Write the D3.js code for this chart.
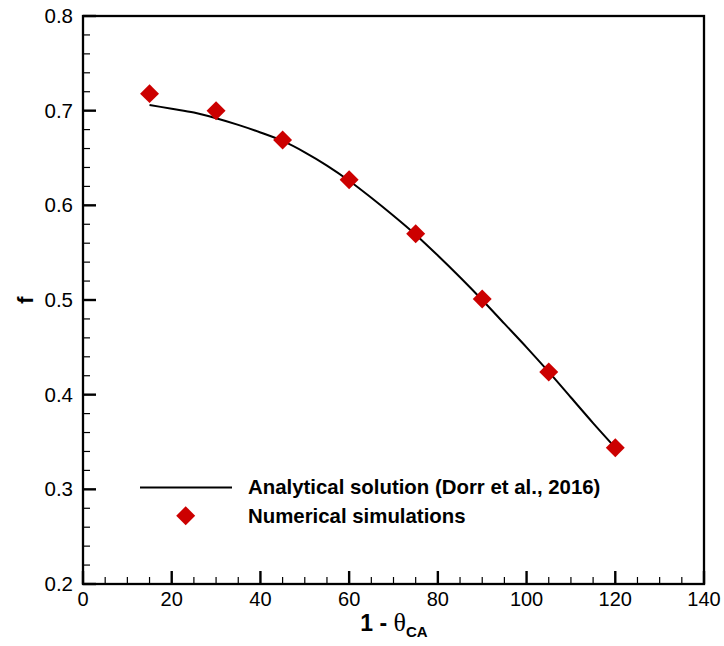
<!DOCTYPE html>
<html><head><meta charset="utf-8">
<script src="https://cdn.jsdelivr.net/npm/d3@7"></script>
<style>body{margin:0;background:#fff}svg{display:block}</style>
</head><body>
<svg id="c" width="724" height="646"></svg>
<script>
// Data
const simX = [15, 30, 45, 60, 75, 90, 105, 120];
const simF = [0.718, 0.700, 0.669, 0.627, 0.570, 0.501, 0.424, 0.344];
const anaX = [15, 20, 25, 30, 35, 40, 45, 50, 55, 60, 65, 70, 75, 80, 85, 90, 95, 100, 105, 110, 115, 120];
const anaF = [0.706, 0.702, 0.698, 0.692, 0.685, 0.677, 0.668, 0.656, 0.642, 0.626, 0.608, 0.589, 0.569, 0.547, 0.524, 0.500, 0.475, 0.450, 0.424, 0.397, 0.370, 0.344];
const xTicks = [0, 20, 40, 60, 80, 100, 120, 140];
const yTicks = [0.2, 0.3, 0.4, 0.5, 0.6, 0.7, 0.8];
const legendLabels = ["Analytical solution (Dorr et al., 2016)", "Numerical simulations"];

const svg = d3.select("#c");
const L = 83, R = 704, T = 16, B = 584;
const x = d3.scaleLinear().domain([0, 140]).range([L, R]);
const y = d3.scaleLinear().domain([0.2, 0.8]).range([B, T]);
const font = "'Liberation Sans', Arial, sans-serif";
const red = "#cc0000";

// minor ticks
const xMinor = d3.range(0, 141, 5).filter(v => v % 20 !== 0);
const yMinor = d3.range(0, 31, 1).map(i => 0.2 + i * 0.02).filter((v, i) => i % 5 !== 0);

const g = svg.append("g");
g.selectAll(".xm").data(xMinor).join("line")
  .attr("x1", d => x(d)).attr("x2", d => x(d)).attr("y1", B).attr("y2", B - 7)
  .attr("stroke", "#000").attr("stroke-width", 1.2);
g.selectAll(".ym").data(yMinor).join("line")
  .attr("y1", d => y(d)).attr("y2", d => y(d)).attr("x1", L).attr("x2", L + 7)
  .attr("stroke", "#000").attr("stroke-width", 1.2);
g.selectAll(".xM").data(xTicks).join("line")
  .attr("x1", d => x(d)).attr("x2", d => x(d)).attr("y1", B).attr("y2", B - 13)
  .attr("stroke", "#000").attr("stroke-width", 2.4);
g.selectAll(".yM").data(yTicks).join("line")
  .attr("y1", d => y(d)).attr("y2", d => y(d)).attr("x1", L).attr("x2", L + 13)
  .attr("stroke", "#000").attr("stroke-width", 2.4);

// frame
g.append("rect").attr("x", L).attr("y", T).attr("width", R - L).attr("height", B - T)
  .attr("fill", "none").attr("stroke", "#000").attr("stroke-width", 2.3);

// tick labels
g.selectAll(".xl").data(xTicks).join("text")
  .attr("x", d => x(d)).attr("y", 606).attr("text-anchor", "middle")
  .attr("font-family", font).attr("font-size", 20).text(d => d);
g.selectAll(".yl").data(yTicks).join("text")
  .attr("x", L - 10).attr("y", d => y(d) + 7).attr("text-anchor", "end")
  .attr("font-family", font).attr("font-size", 20.5).text(d => d.toFixed(1));

// axis titles
const xt = svg.append("text").attr("x", 394).attr("y", 631).attr("text-anchor", "middle")
  .attr("font-family", font).attr("font-size", 23).attr("font-weight", "bold");
xt.append("tspan").text("1 - ");
xt.append("tspan").attr("font-family", "'Liberation Serif', serif").attr("font-weight", "normal").attr("font-size", 26).text("θ");
xt.append("tspan").attr("font-size", 15).attr("dy", 6).text("CA");

svg.append("text").attr("transform", "translate(33,300) rotate(-90)")
  .attr("text-anchor", "middle").attr("font-family", font).attr("font-size", 22)
  .attr("font-weight", "bold").text("f");

// analytical line
const ana = anaX.map((v, i) => [v, anaF[i]]);
svg.append("path").datum(ana)
  .attr("d", d3.line().x(d => x(d[0])).y(d => y(d[1])).curve(d3.curveMonotoneX))
  .attr("fill", "none").attr("stroke", "#000").attr("stroke-width", 2);

// simulation diamonds
const diamond = d3.symbol(d3.symbolSquare, 180)();
svg.selectAll(".pt").data(simX.map((v, i) => [v, simF[i]])).join("path")
  .attr("d", diamond)
  .attr("transform", d => `translate(${x(d[0])},${y(d[1])}) rotate(45)`)
  .attr("fill", red);

// legend
svg.append("line").attr("x1", 140).attr("x2", 232).attr("y1", 487.5).attr("y2", 487.5)
  .attr("stroke", "#000").attr("stroke-width", 2);
svg.append("path").attr("d", diamond).attr("transform", "translate(185.7,515.7) rotate(45)").attr("fill", red);
svg.selectAll(".lg").data(legendLabels).join("text")
  .attr("x", 248).attr("y", (d, i) => 494 + i * 29)
  .attr("font-family", font).attr("font-size", 20.4).attr("font-weight", "bold").text(d => d);
</script>
</body></html>
